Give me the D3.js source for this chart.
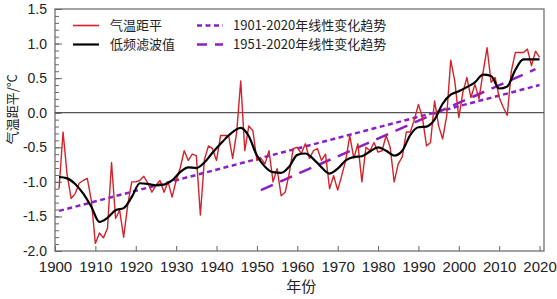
<!DOCTYPE html>
<html>
<head>
<meta charset="utf-8">
<script src="https://cdn.jsdelivr.net/npm/d3@7"></script>
<style>
  body { margin: 0; background: #fff; }
  text { font-family: "Noto Sans CJK SC", "Noto Sans", sans-serif; fill: #222; }
  .tick text { font-family: "Liberation Sans", "Noto Sans", sans-serif; }
</style>
</head>
<body>
<script>
// annual anomaly, 1901-2020
var years = d3.range(1901, 2021);
var anomaly = [
    -1.10, -0.28, -0.90, -1.24, -1.17, -1.02, -0.98, -0.95, -1.27, -1.89,
    -1.74, -1.81, -1.67, -0.72, -1.53, -1.41, -1.80, -1.34, -1.00, -1.00,
    -0.98, -0.92, -1.02, -1.15, -1.05, -0.98, -1.15, -1.00, -1.22, -0.98,
    -0.80, -0.55, -0.69, -0.60, -0.62, -1.48, -0.68, -0.48, -0.52, -0.69,
    -0.33, -0.33, -0.33, -0.66, -0.28, 0.46, -0.55, -0.19, -0.26, -0.69,
    -0.66, -0.74, -0.55, -1.00, -0.81, -1.20, -1.15, -0.88, -0.52, -0.50,
    -0.59, -0.45, -0.66, -0.55, -0.52, -0.69, -0.60, -1.10, -0.91, -1.12,
    -0.91, -0.69, -0.33, -0.66, -0.45, -1.00, -0.50, -0.55, -0.43, -0.57,
    -0.55, -0.33, -0.50, -1.00, -0.74, -0.64, -0.28, -0.28, -0.10, 0.12,
    -0.07, -0.48, -0.43, 0.17, -0.19, -0.38, -0.05, 0.76, 0.46, -0.07,
    0.29, 0.51, 0.22, 0.41, 0.20, 0.58, 0.94, 0.44, 0.51, 0.22,
    0.08, -0.04, 0.60, 0.87, 0.87, 0.87, 0.92, 0.68, 0.89, 0.80
];

// low-pass filtered curve
var smoothYears = [1901, 1903, 1905, 1907, 1909, 1911, 1913, 1915, 1917, 1919,
    1921, 1923, 1925, 1927, 1929, 1931, 1933, 1935, 1937, 1939,
    1941, 1943, 1946, 1948, 1950, 1952, 1954, 1956, 1958, 1960,
    1962, 1964, 1966, 1968, 1970, 1972, 1974, 1976, 1978, 1980,
    1982, 1984, 1986, 1988, 1990, 1992, 1994, 1996, 1998, 2000,
    2002, 2004, 2006, 2008, 2010, 2012, 2014, 2016, 2018, 2020];
var smoothValues = [-0.93, -0.95, -1.03, -1.17, -1.36, -1.58, -1.52, -1.41, -1.38, -1.22,
    -1.02, -1.03, -1.05, -1.04, -0.98, -0.86, -0.79, -0.80, -0.72, -0.58,
    -0.45, -0.33, -0.22, -0.34, -0.62, -0.78, -0.86, -0.87, -0.78, -0.61,
    -0.59, -0.67, -0.79, -0.88, -0.81, -0.69, -0.64, -0.63, -0.56, -0.50,
    -0.55, -0.62, -0.55, -0.32, -0.21, -0.20, -0.10, 0.13, 0.26, 0.31,
    0.37, 0.44, 0.55, 0.53, 0.35, 0.38, 0.62, 0.77, 0.77, 0.77];

// linear trends: [start, end]
var trend1Years = [1901, 2020], trend1Values = [-1.42, 0.40];
var trend2Years = [1951, 2019], trend2Values = [-1.12, 0.63];

var xTicks = d3.range(1900, 2021, 10);
var yTicks = [-2.0, -1.5, -1.0, -0.5, 0.0, 0.5, 1.0, 1.5];
var legendLabels = ['气温距平', '低频滤波值', '1901-2020年线性变化趋势', '1951-2020年线性变化趋势'];

var svg = d3.select("body")
    .append("svg")
    .attr("width", 557)
    .attr("height", 299)
    .style('display', 'block');
var margin = {top: 9, right: 13, bottom: 48, left: 55};
var width = +svg.attr("width") - margin.left - margin.right;
var height = +svg.attr("height") - margin.top - margin.bottom;

var g = svg.append("g").attr("transform", "translate(" + margin.left + "," + margin.top + ")");

var x = d3.scaleLinear().domain([1900, 2021.1]).range([0, width]);
var y = d3.scaleLinear().domain([-2.0, 1.5]).range([height, 0]);

var red = '#d2232a', purple = '#8b1fc6', axisCol = '#666';

// minor ticks every 0.1
g.append('g')
    .call(d3.axisLeft(y).tickValues(d3.range(-20, 16).map(function (d) { return d / 10; }))
        .tickSize(-4).tickFormat(''))
    .call(function (a) { a.select('.domain').remove(); a.selectAll('line').attr('stroke', axisCol); });

g.append('g')
    .call(d3.axisLeft(y).tickValues(yTicks).tickSize(-7).tickPadding(8)
        .tickFormat(function (d) { return d.toFixed(1); }))
    .call(function (a) {
        a.select('.domain').remove();
        a.selectAll('line').attr('stroke', axisCol);
        a.selectAll('text').style('font-size', '14px').attr('fill', '#222');
    });

g.append('g')
    .attr('transform', 'translate(0,' + height + ')')
    .call(d3.axisBottom(x).tickValues(xTicks).tickSize(-5).tickPadding(10).tickFormat(d3.format('d')))
    .call(function (a) {
        a.select('.domain').remove();
        a.selectAll('line').attr('stroke', axisCol);
        a.selectAll('text').style('font-size', '15px').attr('fill', '#222');
    });

// frame
g.append('rect')
    .attr('width', width)
    .attr('height', height)
    .attr('fill', 'none')
    .attr('stroke', axisCol)
    .attr('stroke-width', 1.2);

// zero line
g.append('line')
    .attr('x1', 0).attr('x2', width)
    .attr('y1', y(0)).attr('y2', y(0))
    .attr('stroke', '#555')
    .attr('stroke-width', 1.2);

// trends
g.append('line')
    .attr('x1', x(trend1Years[0])).attr('x2', x(trend1Years[1]))
    .attr('y1', y(trend1Values[0])).attr('y2', y(trend1Values[1]))
    .attr('stroke', purple).attr('stroke-width', 2.5)
    .attr('stroke-dasharray', '5,3.5');

g.append('line')
    .attr('x1', x(trend2Years[0])).attr('x2', x(trend2Years[1]))
    .attr('y1', y(trend2Values[0])).attr('y2', y(trend2Values[1]))
    .attr('stroke', purple).attr('stroke-width', 2.5)
    .attr('stroke-dasharray', '13,8');

// annual anomaly
g.append('path')
    .datum(anomaly)
    .attr('fill', 'none')
    .attr('stroke', red)
    .attr('stroke-width', 1.4)
    .attr('stroke-linejoin', 'round')
    .attr('d', d3.line()
        .x(function (d, i) { return x(years[i]); })
        .y(function (d) { return y(d); }));

// low-pass curve
g.append('path')
    .datum(smoothValues)
    .attr('fill', 'none')
    .attr('stroke', '#000')
    .attr('stroke-width', 2.2)
    .attr('d', d3.line()
        .curve(d3.curveMonotoneX)
        .x(function (d, i) { return x(smoothYears[i]); })
        .y(function (d) { return y(d); }));

// legend
var legendItems = [
    {x: 18, y: 16.5, color: red, width: 1.6, dash: null},
    {x: 18, y: 35.5, color: '#000', width: 2.2, dash: null},
    {x: 142, y: 16.5, color: purple, width: 2.5, dash: '5,3.5'},
    {x: 142, y: 35.5, color: purple, width: 2.5, dash: '10,8'}
];
legendItems.forEach(function (d, i) {
    g.append('line')
        .attr('x1', d.x).attr('x2', d.x + 26)
        .attr('y1', d.y).attr('y2', d.y)
        .attr('stroke', d.color)
        .attr('stroke-width', d.width)
        .attr('stroke-dasharray', d.dash);
    g.append('text')
        .attr('x', d.x + (i < 2 ? 37 : 36))
        .attr('y', d.y)
        .attr('dy', '0.35em')
        .style('font-size', '13px')
        .attr('fill', '#333')
        .text(legendLabels[i]);
});

// axis titles
svg.append('text')
    .attr('x', margin.left + x(1961))
    .attr('y', 292)
    .attr('text-anchor', 'middle')
    .style('font-size', '15px')
    .text('年份');

svg.append('text')
    .attr('transform', 'translate(12,' + (margin.top + y(0.05)) + ') rotate(-90)')
    .attr('text-anchor', 'middle')
    .attr('dy', '0.35em')
    .style('font-size', '13px')
    .text('气温距平/°C');
</script>
</body>
</html>
